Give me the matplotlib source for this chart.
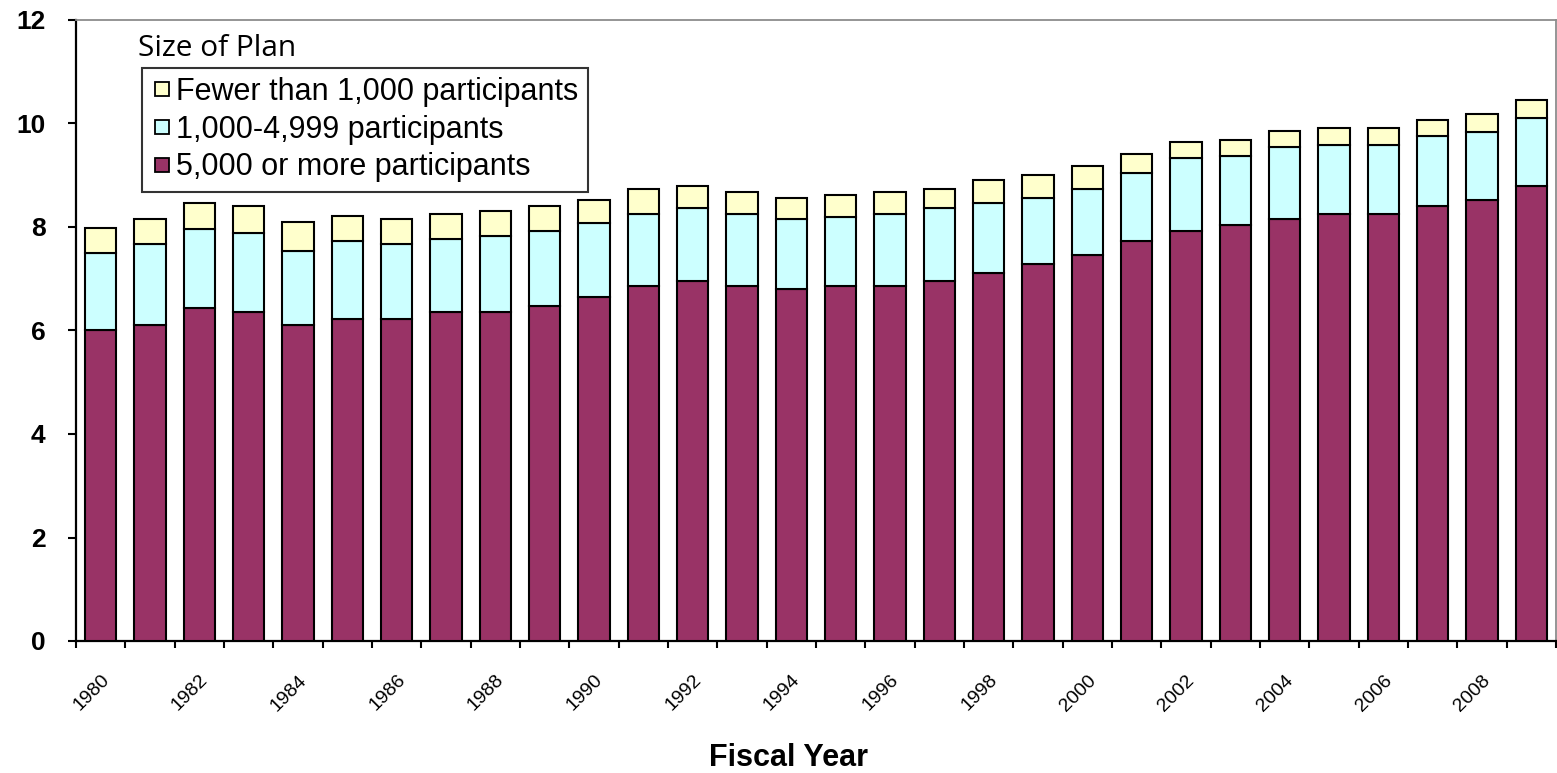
import matplotlib
matplotlib.use("Agg")
import matplotlib.pyplot as plt
from matplotlib.lines import Line2D
import numpy as np

years = ["1980", "1981", "1982", "1983", "1984", "1985", "1986", "1987", "1988", "1989",
         "1990", "1991", "1992", "1993", "1994", "1995", "1996", "1997", "1998", "1999",
         "2000", "2001", "2002", "2003", "2004", "2005", "2006", "2007", "2008", "2009"]

large_plans = [6.01, 6.11, 6.43, 6.36, 6.11, 6.22, 6.22, 6.36, 6.36, 6.47,
               6.64, 6.86, 6.96, 6.86, 6.80, 6.86, 6.86, 6.96, 7.12, 7.28,
               7.45, 7.72, 7.93, 8.04, 8.15, 8.25, 8.25, 8.41, 8.52, 8.79]
mid_plans = [1.49, 1.56, 1.54, 1.52, 1.43, 1.50, 1.45, 1.41, 1.47, 1.46,
             1.44, 1.39, 1.40, 1.39, 1.35, 1.34, 1.39, 1.40, 1.35, 1.29,
             1.28, 1.33, 1.40, 1.33, 1.39, 1.33, 1.33, 1.34, 1.32, 1.32]
small_plans = [0.48, 0.48, 0.50, 0.53, 0.55, 0.49, 0.48, 0.48, 0.48, 0.48,
               0.44, 0.48, 0.43, 0.43, 0.42, 0.42, 0.43, 0.37, 0.43, 0.43,
               0.44, 0.37, 0.32, 0.32, 0.32, 0.34, 0.34, 0.32, 0.34, 0.34]

series_labels = ["5,000 or more participants", "1,000-4,999 participants",
                 "Fewer than 1,000 participants"]
colors = ["#993366", "#CCFFFF", "#FFFFCC"]

W, H = 1557, 773
fig = plt.figure(figsize=(W / 100, H / 100), dpi=100)
ax = fig.add_axes([76 / W, 1 - 641 / H, (1556 - 76) / W, (641 - 20) / H])

x = np.arange(len(years))
large = np.array(large_plans)
mid = np.array(mid_plans)
small = np.array(small_plans)
bw = 0.63
ax.bar(x, large, bw, color=colors[0], edgecolor="black", linewidth=1.5, zorder=3)
ax.bar(x, mid, bw, bottom=large, color=colors[1], edgecolor="black", linewidth=1.5, zorder=3)
ax.bar(x, small, bw, bottom=large + mid, color=colors[2], edgecolor="black", linewidth=1.5, zorder=3)

ax.set_xlim(-0.5, len(years) - 0.5)
ax.set_ylim(0, 12)

# y axis
ax.set_yticks([0, 2, 4, 6, 8, 10, 12])
ax.tick_params(axis="y", direction="out", length=6, width=1.5, pad=16,
               labelsize=19)
for lab in ax.get_yticklabels():
    lab.set_fontweight("bold")
    lab.set_fontfamily("Liberation Sans")

# x axis: tick marks at category boundaries, labels every other category
ax.set_xticks(np.arange(-0.5, len(years), 1.0))
ax.set_xticklabels([])
ax.set_xticks(x[::2], minor=True)
ax.set_xticklabels(years[::2], minor=True, rotation=45, ha="right",
                   rotation_mode="anchor", fontsize=14, fontfamily="Liberation Sans")
ax.tick_params(axis="x", which="major", direction="out", length=5, width=1.5)
ax.tick_params(axis="x", which="minor", length=0, pad=22)

for side in ["left", "bottom"]:
    ax.spines[side].set_color("black")
    ax.spines[side].set_linewidth(1.6)
for side in ["top", "right"]:
    ax.spines[side].set_color("#8c8c8c")
    ax.spines[side].set_linewidth(1.3)

# legend
handles = [Line2D([], [], linestyle="none", marker="s", markersize=10,
                  markerfacecolor=colors[i], markeredgecolor="black",
                  markeredgewidth=1.3) for i in [2, 1, 0]]
labels = [series_labels[i] for i in [2, 1, 0]]
leg = ax.legend(handles, labels, loc="upper left",
                bbox_to_anchor=((142 - 76) / 1480, (641 - 68) / 621),
                borderaxespad=0, fancybox=False, frameon=True,
                prop={"family": "Liberation Sans", "size": 22},
                handlelength=0.7, handletextpad=0.12,
                labelspacing=0.25, borderpad=0.3)
leg.get_frame().set_edgecolor("black")
leg.get_frame().set_linewidth(1.5)

ax.text((138 - 76) / 1480, (641 - 56) / 621, "Size of Plan", transform=ax.transAxes,
        fontsize=21.5, fontfamily="Open Sans", va="baseline", ha="left")

fig.text(789 / W, 1 - 766 / H, "Fiscal Year", ha="center", va="baseline",
         fontsize=22, fontweight="bold", fontfamily="Liberation Sans")

fig.savefig("out.png", dpi=100)
